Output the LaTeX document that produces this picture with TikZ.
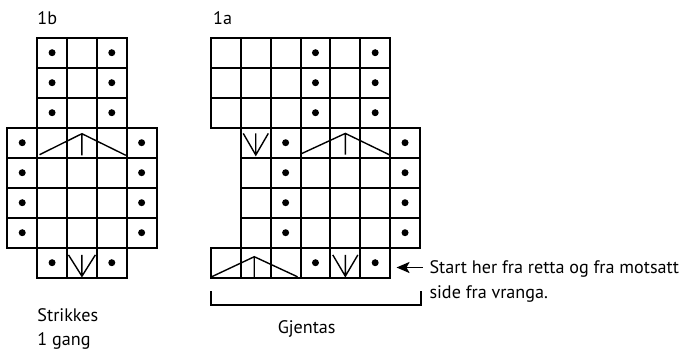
\documentclass[tikz,border=0pt]{standalone}
\usepackage{fontspec}
\setmainfont{PT Sans}
\usetikzlibrary{arrows.meta, positioning}

\begin{document}
\begin{tikzpicture}[x=1bp, y=-1bp,
    every node/.style={font=\fontsize{18.2}{21}\selectfont, inner sep=0pt},
    cell/.style={draw=black, line width=2bp},
    stitch/.style={draw=black, line width=1.4bp, line join=miter},
    dot/.style={fill=black},
    arrow/.style={-{Stealth[length=13bp, width=11bp, inset=3bp]}, draw=black, line width=1.8bp},
    bracket/.style={draw=black, line width=1.6bp}
]
\useasboundingbox (0,0) rectangle (698,351);

% Chart 1b
\begin{scope}[shift={(7.3,37.7)}, x=29.85bp, y=-30bp]
  \foreach \r in {0,1,2,7} \foreach \c in {1,2,3} \draw[cell] (\c,\r) rectangle ++(1,1);
  \foreach \r in {3,...,6} \foreach \c in {0,...,4} \draw[cell] (\c,\r) rectangle ++(1,1);
  \foreach \r in {0,1,2,7} {
    \fill[dot] (1.5,\r+.5) circle[radius=3.5bp];
    \fill[dot] (3.5,\r+.5) circle[radius=3.5bp];
  }
  \foreach \r in {3,...,6} {
    \fill[dot] (0.5,\r+.5) circle[radius=3.5bp];
    \fill[dot] (4.5,\r+.5) circle[radius=3.5bp];
  }
  % decreases
  \draw[stitch] (1.08,3.9) -- (2.5,3.2) -- (3.97,3.92) (2.5,3.2) -- (2.5,3.92);
  \draw[stitch] (2.05,7.24) -- (2.5,7.95) -- (2.95,7.24) (2.5,7.24) -- (2.5,7.95);
\end{scope}

% Chart 1a
\begin{scope}[shift={(211,37.7)}, x=29.85bp, y=-30bp]
  \foreach \r in {0,1,2,7} \foreach \c in {0,...,5} \draw[cell] (\c,\r) rectangle ++(1,1);
  \foreach \r in {3,...,6} \foreach \c in {1,...,6} \draw[cell] (\c,\r) rectangle ++(1,1);
  \foreach \r in {0,1,2,7} {
    \fill[dot] (3.5,\r+.5) circle[radius=3.5bp];
    \fill[dot] (5.5,\r+.5) circle[radius=3.5bp];
  }
  \foreach \r in {3,...,6} {
    \fill[dot] (2.5,\r+.5) circle[radius=3.5bp];
    \fill[dot] (6.5,\r+.5) circle[radius=3.5bp];
  }
  % decreases
  \draw[stitch] (1.08,3.19) -- (1.5,3.91) -- (1.92,3.19) (1.5,3.19) -- (1.5,3.91);
  \draw[stitch] (3.0,3.88) -- (4.5,3.19) -- (5.97,3.9) (4.5,3.19) -- (4.5,3.9);
  \draw[stitch] (0.02,7.97) -- (1.45,7.3) -- (2.9,7.97) (1.45,7.3) -- (1.45,7.97);
  \draw[stitch] (4.08,7.24) -- (4.5,7.95) -- (4.92,7.24) (4.5,7.24) -- (4.5,7.95);
\end{scope}

% Labels
\node[anchor=base west] (title1b) at (37.3,24) {1b};
\node[anchor=base west] (title1a) at (213,24) {1a};
\node[anchor=base west] (start) at (429.3,273.3) {Start her fra retta og fra motsatt};
\node[anchor=base west] (side) at (429.3,298) {side fra vranga.};
\node[anchor=base west] (strikkes) at (37.3,321.7) {Strikkes};
\node[anchor=base west] (gang) at (37.3,345) {1 gang};
\node[anchor=base] (gjentas) at (306.7,333.3) {Gjentas};

% Start arrow and repeat bracket
\coordinate (tip) at (396.5,267.5);
\draw[arrow, shorten <=6.5bp] (start.west |- tip) -- (tip);
\draw[bracket] (211,291) |- (420.7,305) -- (420.7,291);

\end{tikzpicture}
\end{document}
